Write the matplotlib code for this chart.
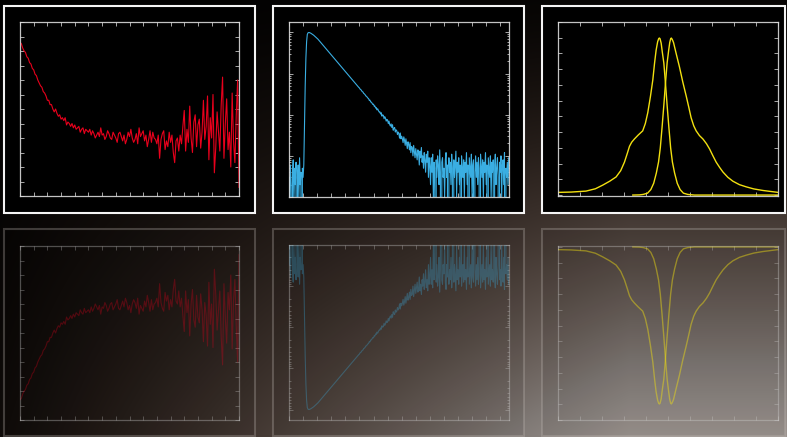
import numpy as np
import matplotlib.pyplot as plt
from matplotlib.patches import Rectangle
from matplotlib.ticker import MultipleLocator, LogLocator

W, H = 787, 437

# Panel 1: decay curve (arbitrary units on a 16 x 12 grid), step 0.1
red_y = [10.6, 10.5, 10.2, 10.0, 9.9, 9.6, 9.5, 9.2, 9.1, 8.8,
         8.7, 8.4, 8.3, 8.0, 7.8, 7.6, 7.5, 7.2, 7.1, 6.9,
         6.6, 6.6, 6.3, 6.3, 6.0, 5.8, 6.0, 5.7, 5.5, 5.6,
         5.3, 5.4, 5.2, 5.4, 4.9, 5.1, 5.0, 4.8, 5.0, 4.7,
         4.9, 4.6, 4.7, 4.8, 4.4, 4.6, 4.7, 4.3, 4.6, 4.5,
         4.4, 4.6, 4.2, 4.5, 4.3, 4.0, 4.2, 4.4, 4.1, 4.7,
         4.2, 4.3, 3.9, 4.1, 4.5, 4.3, 4.0, 3.9, 4.4, 4.2,
         4.0, 3.7, 4.3, 4.4, 4.1, 3.8, 4.2, 3.6, 3.9, 4.4,
         4.1, 4.6, 4.0, 3.7, 3.9, 4.3, 3.6, 4.7, 4.1, 4.3,
         4.5, 3.8, 4.2, 3.4, 3.9, 4.5, 3.7, 4.4, 4.0, 3.9,
         3.6, 4.2, 2.6, 3.9, 4.3, 4.5, 3.2, 3.8, 3.4, 4.4,
         3.7, 4.2, 3.0, 2.3, 3.8, 4.0, 3.1, 4.2, 3.6, 4.8,
         5.9, 3.1, 4.6, 3.7, 6.2, 4.0, 3.0, 5.1, 5.6, 3.4,
         4.9, 5.3, 3.3, 4.4, 6.6, 3.9, 4.8, 6.9, 2.5, 5.4,
         4.0, 7.0, 1.6, 3.3, 5.8, 4.5, 3.1, 6.3, 8.2, 2.6,
         5.0, 6.7, 3.2, 4.4, 2.0, 7.1, 3.8, 2.3, 5.6, 8.0,
         0.6]

# Panel 2: photon counts per channel (log axis), step 0.05
blue_counts = [3, 1, 6, 2, 0, 4, 8, 1, 5, 2, 7, 0, 3, 6, 1, 9, 2, 4, 0, 5, 3, 6,
               60, 500, 2400, 6000, 9000, 9800, 10000, 9950, 9800, 9600,
               9350, 9150, 8900, 8600, 8300, 8050, 7760, 7500,
               7244, 6915, 6600, 6300, 6013, 5740, 5479, 5230, 4992, 4765,
               4548, 4341, 4144, 3955, 3775, 3604, 3440, 3283, 3134, 2992,
               2856, 2726, 2602, 2483, 2370, 2263, 2160, 2062, 1968, 1878,
               1793, 1711, 1633, 1559, 1488, 1420, 1356, 1294, 1235, 1179,
               1125, 1074, 1025, 979, 934, 892, 851, 812, 775, 740,
               706, 674, 644, 614, 586, 560, 534, 510, 487, 464,
               448, 418, 409, 388, 365, 358, 331, 322, 309, 287,
               282, 268, 254, 247, 224, 226, 204, 203, 190, 178,
               181, 161, 163, 145, 149, 131, 139, 126, 117, 118,
               104, 112, 92, 99, 97, 80, 90, 83, 70, 77,
               74, 61, 70, 58, 53, 60, 49, 57, 42, 47,
               49, 38, 43, 41, 33, 38, 35, 27, 36, 26,
               30, 26, 21, 29, 24, 18, 26, 20, 15, 22,
               19, 14, 21, 12, 17, 16, 10, 18, 13, 9,
               15, 11, 8, 14, 12, 6, 13, 9, 16, 7,
               10, 5, 12, 8, 4, 11, 7, 13, 3, 9,
               6, 2, 9, 4, 11, 1, 7, 5, 0, 8,
               3, 10, 6, 2, 14, 4, 0, 7, 9, 3,
               5, 1, 8, 12, 3, 6, 0, 9, 4, 7,
               2, 11, 5, 0, 8, 3, 6, 13, 1, 7,
               4, 9, 2, 6, 0, 10, 5, 3, 8, 1,
               7, 4, 12, 2, 6, 0, 9, 5, 3, 11,
               1, 6, 8, 0, 4, 10, 3, 7, 2, 9,
               5, 0, 11, 6, 3, 8, 1, 7, 4, 12,
               2, 6, 0, 9, 5, 3, 10, 1, 7, 4,
               8, 0, 6, 11, 2, 5, 9, 3, 0, 7,
               4, 10, 1, 6, 8, 2, 12, 0, 5, 3,
               7, 2, 9]

# Panel 3: two normalised spectra
yel_a_x = [0, 0.6, 1.27, 1.7, 2.03, 2.35, 2.64, 2.85, 3.02, 3.15, 3.25, 3.35,
           3.47, 3.65, 3.85, 3.97, 4.08, 4.2, 4.31, 4.39, 4.46, 4.53, 4.58,
           4.61, 4.64, 4.69, 4.74, 4.81, 4.88, 4.96, 5.04, 5.12, 5.2, 5.3,
           5.42, 5.55, 5.7, 5.9, 6.2, 10]
yel_a_y = [0.017, 0.019, 0.025, 0.040, 0.063, 0.088, 0.115, 0.155, 0.209,
           0.265, 0.310, 0.336, 0.356, 0.382, 0.408, 0.455, 0.523, 0.625,
           0.732, 0.840, 0.921, 0.975, 0.995, 0.998, 0.993, 0.965, 0.91,
           0.84, 0.72, 0.57, 0.43, 0.30, 0.21, 0.14, 0.075, 0.035, 0.012,
           0.004, 0.0, 0.0]
yel_b_x = [3.40, 3.70, 3.87, 4.07, 4.22, 4.35, 4.47, 4.57, 4.65, 4.73, 4.81,
           4.89, 4.96, 5.03, 5.08, 5.12, 5.15, 5.19, 5.25, 5.37, 5.52, 5.67,
           5.83, 5.95, 6.05, 6.17, 6.28, 6.43, 6.59, 6.75, 6.89, 7.04, 7.19,
           7.35, 7.50, 7.72, 7.95, 8.25, 8.56, 8.90, 9.32, 10.0]
yel_b_y = [0.0, 0.001, 0.004, 0.012, 0.035, 0.075, 0.14, 0.21, 0.30, 0.43,
           0.57, 0.72, 0.84, 0.92, 0.97, 0.993, 0.998, 0.99, 0.97, 0.90,
           0.815, 0.72, 0.628, 0.555, 0.492, 0.44, 0.408, 0.378, 0.356,
           0.326, 0.293, 0.25, 0.209, 0.175, 0.146, 0.113, 0.088, 0.066,
           0.052, 0.039, 0.029, 0.017]

RED, BLUE, YELLOW = '#e8001c', '#3aaee2', '#f2e010'


def box(x0, y0, x1, y1):
    # pixel box (top-left origin) -> figure fraction
    return [x0 / W, 1 - y1 / H, (x1 - x0) / W, (y1 - y0) / H]


fig = plt.figure(figsize=(W / 100, H / 100), dpi=100)

# background: dark top-left, warm grey towards the bottom right
bg = fig.add_axes([0, 0, 1, 1])
bg.axis('off')
yy, xx = np.mgrid[0:1:H * 1j, 0:1:W * 1j]
fx = 0.06 + 0.56 * np.minimum(1, xx / 0.8) ** 1.1
gy = 0.05 + 0.95 * yy ** 1.3
b = fx * gy
k = np.minimum(1, b / 0.5)
img = np.dstack([b, b * (0.72 + 0.23 * k), b * (0.58 + 0.34 * k)]).clip(0, 1)
bg.imshow(img, aspect='auto', extent=[0, 1, 0, 1])
bg.set_xlim(0, 1)
bg.set_ylim(0, 1)

frames_top = [(4, 6, 255, 213), (273, 6, 524, 213), (542, 6, 785, 213)]
frames_ref = [(4, 229, 255, 436), (273, 229, 524, 436), (542, 229, 785, 436)]
axes_top = [(20, 22, 239, 196), (289, 22, 509, 197), (558, 22, 778, 196)]
axes_ref = [(20, 246, 239, 420), (289, 245, 509, 420), (558, 246, 778, 420)]

for f in frames_top:
    r = box(*f)
    bg.add_patch(Rectangle((r[0], r[1]), r[2], r[3], facecolor='black',
                           edgecolor='#f4f4f4', lw=1.5))
for f in frames_ref:
    r = box(*f)
    bg.add_patch(Rectangle((r[0], r[1]), r[2], r[3], facecolor=(0, 0, 0, 0.06),
                           edgecolor=(0.75, 0.72, 0.7, 0.3), lw=1.5))


def style(ax, alpha):
    ax.set_facecolor('black' if alpha == 1 else 'none')
    col = (0.85, 0.85, 0.85, 0.9 * alpha)
    for s in ax.spines.values():
        s.set_color(col)
        s.set_linewidth(0.9)
    ax.tick_params(which='both', direction='in', colors=col, top=True,
                   right=True, labelbottom=False, labelleft=False,
                   length=3, width=0.6)
    ax.tick_params(which='minor', length=1.5)


line_alpha = {0: 0.3, 1: 0.32, 2: 0.45}

for i, pos in enumerate(axes_top + axes_ref):
    ax = fig.add_axes(box(*pos))
    kind = i % 3
    flip = i >= 3
    alpha = 0.38 if flip else 1
    la = line_alpha[kind] if flip else 1
    if kind == 0:
        t = np.linspace(0, 16, len(red_y))
        ax.plot(t, red_y, color=RED, lw=0.8, alpha=la)
        ax.set_xlim(0, 16)
        ax.set_ylim(0, 12)
        ax.xaxis.set_major_locator(MultipleLocator(1))
        ax.yaxis.set_major_locator(MultipleLocator(1))
    elif kind == 1:
        t = np.linspace(0, 15.6, len(blue_counts))
        ax.plot(t, blue_counts, color=BLUE, lw=0.8, alpha=la)
        ax.set_yscale('log')
        ax.set_xlim(0, 15.62)
        ax.set_ylim(1, 18000)
        ax.xaxis.set_major_locator(MultipleLocator(1))
        ax.yaxis.set_major_locator(LogLocator(base=10, numticks=10))
        ax.yaxis.set_minor_locator(LogLocator(base=10, subs=range(2, 10),
                                              numticks=50))
    else:
        ax.plot(yel_a_x, yel_a_y, color=YELLOW, lw=1.0, alpha=la)
        ax.plot(yel_b_x, yel_b_y, color=YELLOW, lw=1.0, alpha=la)
        ax.set_xlim(0, 10)
        ax.set_ylim(-0.006, 1.1)
        ax.xaxis.set_major_locator(MultipleLocator(1))
        ax.yaxis.set_major_locator(MultipleLocator(0.1))
    style(ax, alpha)
    if flip:
        ax.invert_yaxis()

fig.savefig('out.png', dpi=100)
